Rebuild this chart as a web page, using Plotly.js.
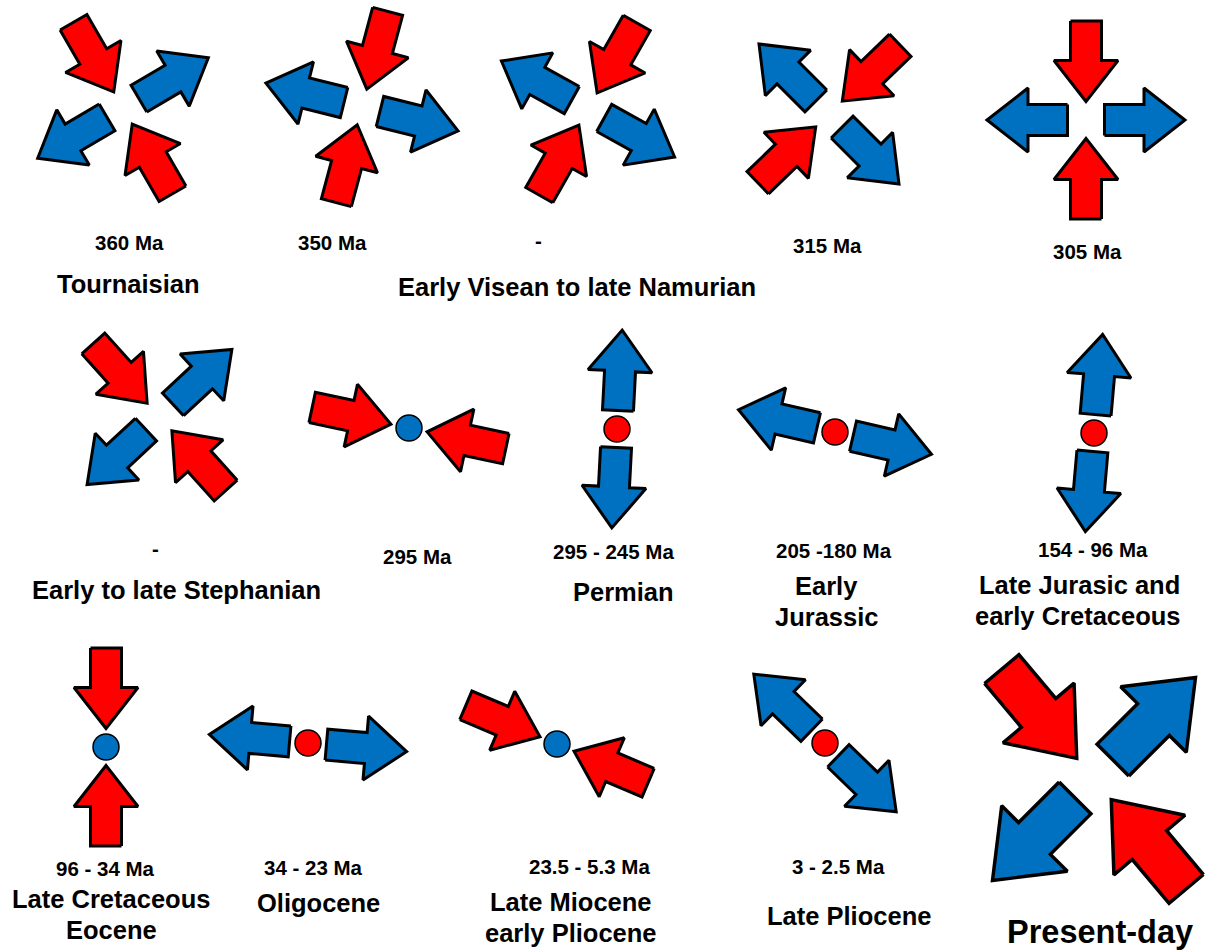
<!DOCTYPE html>
<html><head><meta charset="utf-8">
<script src="https://cdn.plot.ly/plotly-3.0.1.min.js"></script>
<style>html,body{margin:0;padding:0;background:#fff}</style>
</head><body>
<div id="chart" style="width:1206px;height:950px"></div>
<script>
// ---------------- DATA ----------------
// Stress regime per stage: azimuth (deg, clockwise from north) of the
// compression axis (red arrows, inward) and extension axis (blue arrows, outward).
const stageIds = ['Tournaisian','Visean-Namurian A','Visean-Namurian B','Namurian 315','Westphalian 305',
  'Stephanian','Stephanian 295','Permian','Early Jurassic','Late Jurassic-Early Cretaceous',
  'Late Cretaceous-Eocene','Oligocene','Late Miocene-Early Pliocene','Late Pliocene','Present-day'];
const compressionAz = [150, 15, 29.5, 46, 0, 138, 102, null, null, null, 0, null, 113, null, 140];
const extensionAz   = [59.5, 104, 119, 135, 90, 47, null, 3, 103, 5, null, 95, null, 134, 45];

const ageLabels = ['360 Ma','350 Ma','-','315 Ma','305 Ma','-','295 Ma','295 - 245 Ma',
  '205 -180 Ma','154 - 96 Ma','96 - 34 Ma','34 - 23 Ma','23.5 - 5.3 Ma','3 - 2.5 Ma'];
const periodLabels = ['Tournaisian','Early Visean to late Namurian','Early to late Stephanian',
  'Permian','Early','Jurassic','Late Jurasic and','early Cretaceous','Late Cretaceous','Eocene',
  'Oligocene','Late Miocene','early Pliocene','Late Pliocene','Present-day'];

// ---------------- LAYOUT (positions / sizes / styles) ----------------
const panelCenters = [[123,108],[362,107],[588,109],[829,114],[1086,120],
  [159.5,417],[409,428],[617,429],[835,432],[1094,433],
  [106,747],[308,743],[557,744],[825,743],[1094,779]];
const panelScale = [1,1,1,1,1, 1,1,1,1,1, 1,1,1,1,1.45];
const agePos = [[129,242],[332,242],[538,240],[827,245],[1087,251],[155,548],[417,556],[613,551],
  [834,550],[1093,549],[105,868],[313,867],[589,866],[838,866]];
const periodPos = [[128.5,284],[577,287],[176.5,590],[623,592],[826,586],[827,617],[1079,585],
  [1078,616],[111,899],[111,930],[318,903],[571,902],[571,933],[849,916],[1100,932]];

const RED = '#FF0000', BLUE = '#0070C0';
const FONT = 'Liberation Sans, Arial, sans-serif';
const R_IN = 18.5, R_OUT = 99, SHAFT = 31, HEAD_W = 64, HEAD_L = 41;

function arrowShape(cx, cy, az, inward, s) {
  const a = az * Math.PI / 180;
  const ux = Math.sin(a), uy = -Math.cos(a);
  const rIn = R_IN * s, rOut = R_OUT * s;
  let tx, ty, px, py;
  if (inward) { tx = cx + ux*rOut; ty = cy + uy*rOut; px = cx + ux*rIn; py = cy + uy*rIn; }
  else { tx = cx + ux*rIn; ty = cy + uy*rIn; px = cx + ux*rOut; py = cy + uy*rOut; }
  const L = Math.hypot(px-tx, py-ty);
  const dx = (px-tx)/L, dy = (py-ty)/L;
  const nx = -dy, ny = dx;
  const w = SHAFT*s/2, h = HEAD_W*s/2, hl = HEAD_L*s;
  const bx = px - dx*hl, by = py - dy*hl;
  const pts = [
    [tx+nx*w, ty+ny*w], [bx+nx*w, by+ny*w], [bx+nx*h, by+ny*h], [px, py],
    [bx-nx*h, by-ny*h], [bx-nx*w, by-ny*w], [tx-nx*w, ty-ny*w], [tx+nx*w, ty+ny*w]
  ];
  return {x: pts.map(p=>p[0]), y: pts.map(p=>p[1])};
}

const traces = [];
const dotX = [], dotY = [], dotC = [];
stageIds.forEach((id, i) => {
  const [cx, cy] = panelCenters[i];
  const s = panelScale[i];
  const comp = compressionAz[i], ext = extensionAz[i];
  const lw = 3 * (s > 1 ? 1.15 : 1);
  if (comp !== null) {
    [comp, comp+180].forEach(az => {
      const sh = arrowShape(cx, cy, az, true, s);
      traces.push({type:'scatter', mode:'lines', x: sh.x, y: sh.y, fill:'toself',
        fillcolor: RED, line:{color:'#000', width:lw}, hoverinfo:'skip', name:id});
    });
  }
  if (ext !== null) {
    [ext, ext+180].forEach(az => {
      const sh = arrowShape(cx, cy, az, false, s);
      traces.push({type:'scatter', mode:'lines', x: sh.x, y: sh.y, fill:'toself',
        fillcolor: BLUE, line:{color:'#000', width:lw}, hoverinfo:'skip', name:id});
    });
  }
  if (comp === null || ext === null) {
    dotX.push(cx); dotY.push(cy); dotC.push(comp === null ? RED : BLUE);
  }
});
traces.push({type:'scatter', mode:'markers', x: dotX, y: dotY,
  marker:{size:26, color: dotC, line:{color:'#000', width:1.5}}, hoverinfo:'skip'});

const annotations = [];
ageLabels.forEach((t, i) => annotations.push({x: agePos[i][0], y: agePos[i][1], xref:'x', yref:'y',
  text: '<b>'+t+'</b>', showarrow:false, xanchor:'center', yanchor:'middle',
  font:{family: FONT, size: 20.5, color:'#000'}}));
periodLabels.forEach((t, i) => annotations.push({x: periodPos[i][0], y: periodPos[i][1], xref:'x', yref:'y',
  text: '<b>'+t+'</b>', showarrow:false, xanchor:'center', yanchor:'middle',
  font:{family: FONT, size: t === 'Present-day' ? 32.5 : 25.5, color:'#000'}}));

const layout = {
  width: 1206, height: 950,
  margin: {l:0, r:0, t:0, b:0},
  paper_bgcolor: '#fff', plot_bgcolor: '#fff',
  showlegend: false, hovermode: false,
  xaxis: {range:[0,1206], visible:false, fixedrange:true},
  yaxis: {range:[950,0], visible:false, fixedrange:true},
  annotations: annotations
};
Plotly.newPlot('chart', traces, layout, {staticPlot:true, displayModeBar:false});
</script>
</body></html>
